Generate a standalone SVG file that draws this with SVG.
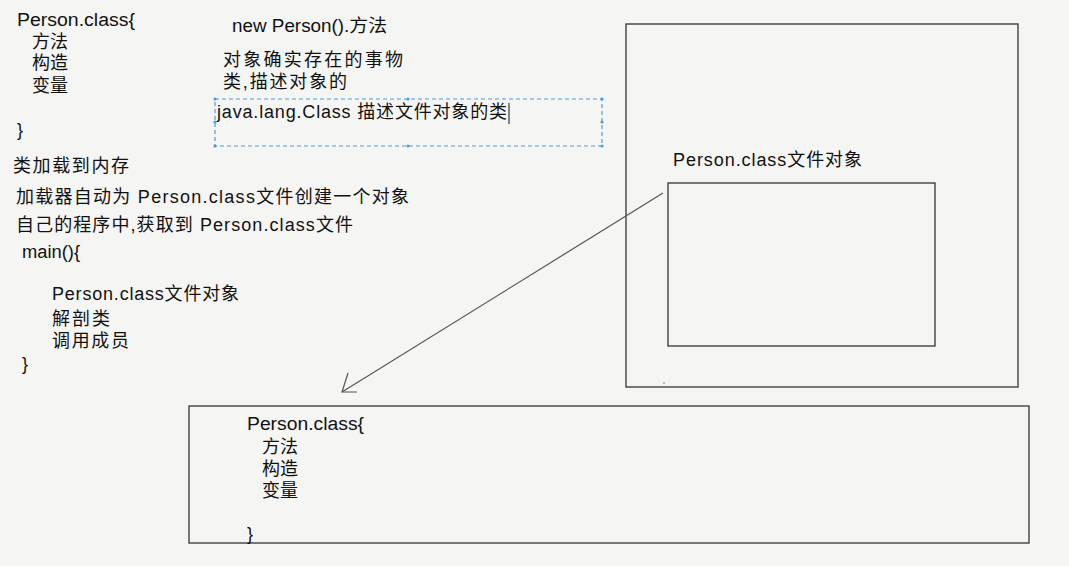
<svg xmlns="http://www.w3.org/2000/svg" width="1069" height="566" viewBox="0 0 1069 566">
<style>
text{font-family:"Liberation Sans","Noto Sans CJK SC",sans-serif;font-size:18px;fill:#111}
.box{fill:none;stroke:#333;stroke-width:1.3}
.sel{fill:none;stroke:#4a9fd8;stroke-width:1.2;stroke-dasharray:4,3}
.h{fill:#4a9fd8}
.conn{fill:none;stroke:#555;stroke-width:1.2}
</style>
<rect width="1069" height="566" fill="#f5f5f3"/>
<g id="code-top">
<text x="17" y="26" textLength="118" lengthAdjust="spacingAndGlyphs">Person.class{</text>
<text x="32" y="48">方法</text>
<text x="32" y="69">构造</text>
<text x="32" y="92">变量</text>
<text x="17" y="136">}</text>
</g>
<g id="notes-top">
<text x="232" y="32" textLength="155" lengthAdjust="spacingAndGlyphs">new Person().方法</text>
<text x="223" y="66" textLength="180" lengthAdjust="spacing">对象确实存在的事物</text>
<text x="223" y="88" textLength="124" lengthAdjust="spacing">类,描述对象的</text>
</g>
<g id="selected-text">
<rect class="sel" x="215" y="99" width="387" height="47"/>
<circle class="h" cx="215" cy="99" r="1.6"/><circle class="h" cx="408" cy="99" r="1.6"/><circle class="h" cx="602" cy="99" r="1.6"/>
<circle class="h" cx="215" cy="122" r="1.6"/><circle class="h" cx="602" cy="122" r="1.6"/>
<circle class="h" cx="215" cy="146" r="1.6"/><circle class="h" cx="408" cy="146" r="1.6"/><circle class="h" cx="602" cy="146" r="1.6"/>
<text x="217" y="118" textLength="290" lengthAdjust="spacing">java.lang.Class 描述文件对象的类</text>
<line x1="509" y1="103" x2="509" y2="124" stroke="#111" stroke-width="1"/>
</g>
<g id="notes-middle">
<text x="13" y="172" textLength="116" lengthAdjust="spacing">类加载到内存</text>
<text x="16" y="203" textLength="393" lengthAdjust="spacing">加载器自动为 Person.class文件创建一个对象</text>
<text x="16" y="231" textLength="337" lengthAdjust="spacing">自己的程序中,获取到 Person.class文件</text>
<text x="22" y="258" textLength="58" lengthAdjust="spacingAndGlyphs">main(){</text>
<text x="52" y="300" textLength="187" lengthAdjust="spacing">Person.class文件对象</text>
<text x="52" y="325" textLength="58" lengthAdjust="spacing">解剖类</text>
<text x="52" y="347" textLength="77" lengthAdjust="spacing">调用成员</text>
<text x="22" y="370">}</text>
</g>
<g id="memory">
<rect class="box" x="626" y="24" width="392" height="363" stroke="#222"/>
<circle cx="664" cy="383" r="0.7" fill="#555"/>
</g>
<g id="class-object">
<text x="673" y="166" textLength="189" lengthAdjust="spacing">Person.class文件对象</text>
<rect class="box" x="668" y="183" width="267" height="163" stroke="#444"/>
</g>
<g id="class-file">
<rect class="box" x="189" y="406" width="840" height="137"/>
<text x="247" y="430" textLength="117" lengthAdjust="spacingAndGlyphs">Person.class{</text>
<text x="262" y="453">方法</text>
<text x="262" y="475">构造</text>
<text x="262" y="497">变量</text>
<text x="247" y="540">}</text>
</g>
<g id="connectors">
<line class="conn" x1="663" y1="193" x2="342" y2="392"/>
<polyline class="conn" points="348,373 342,392 357,392"/>
</g>
</svg>
